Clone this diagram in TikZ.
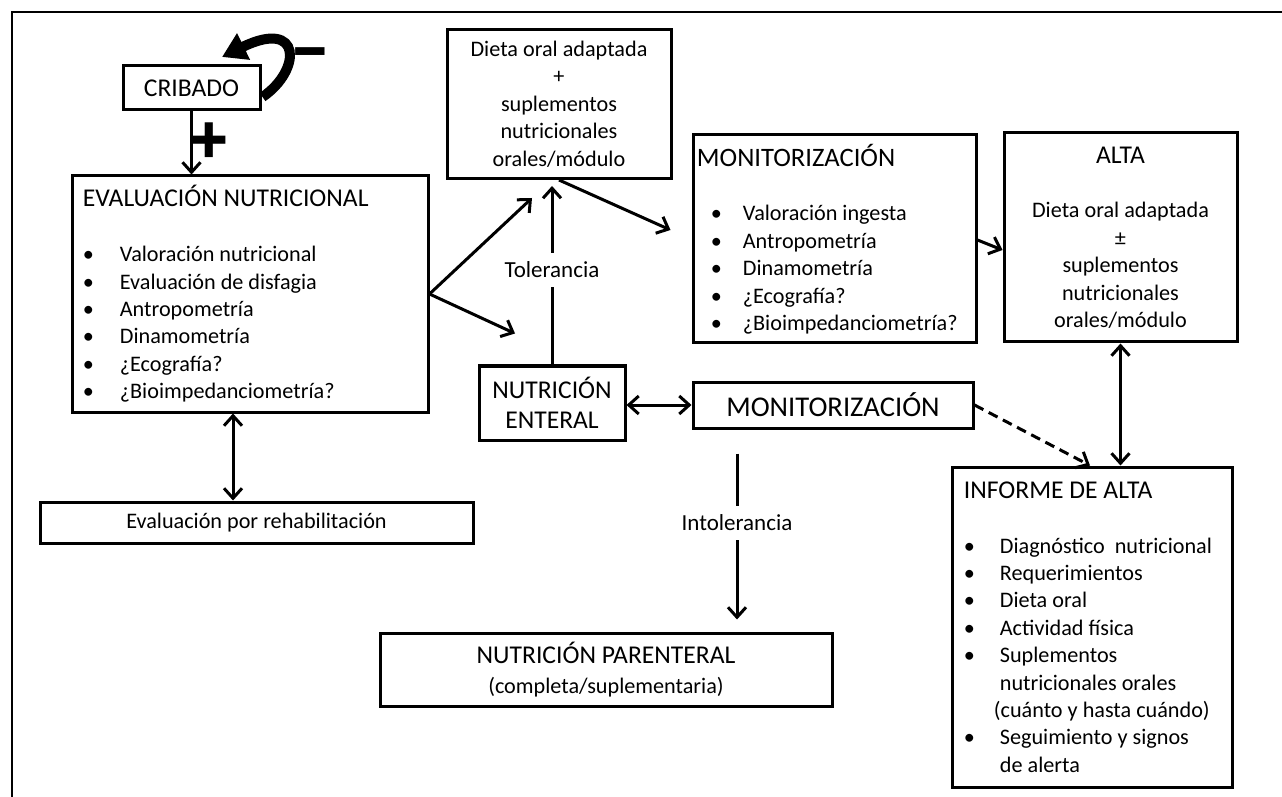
\documentclass[tikz,border=0pt]{standalone}
\usepackage{fontspec}
\setmainfont{Carlito}
\newfontfamily\emojifont{Noto Emoji}
\usetikzlibrary{positioning,arrows.meta}
\newcommand{\headfont}{\fontsize{12.8}{15}\selectfont}
\newcommand{\bul}[1][16pt]{\makebox[#1][l]{\textbullet}}

\begin{document}
\begin{tikzpicture}[x=0.5pt,y=-0.5pt,
  box/.style={draw,line width=1.5pt,inner sep=0pt},
  txt/.style={inner sep=0pt,align=left},
  link/.style={line width=1.5pt,-{Straight Barb[length=5pt,width=9pt]}},
  both/.style={link,{Straight Barb[length=5pt,width=9pt]}-{Straight Barb[length=5pt,width=9pt]}},
  font=\fontsize{11.1}{13.7}\selectfont]
\useasboundingbox (0,0) rectangle (1282,797);
\draw[line width=1pt] (12,797) -- (12,12) -- (1282,12);

% boxes
\node[box,minimum width=68.5pt,minimum height=22pt,font=\headfont] (cribado) at (191.5,88) {CRIBADO};
\node[box,minimum width=178pt,minimum height=118pt] (eval) at (250,294) {};
\node[box,minimum width=112pt,minimum height=74.5pt,align=center] (dieta) at (559,104)
  {Dieta oral adaptada\\+\\suplementos\\nutricionales\\orales/módulo};
\node[box,minimum width=141.5pt,minimum height=104pt] (monA) at (834.5,239) {};
\node[box,minimum width=116.5pt,minimum height=104.5pt,align=center] (alta) at (1120.5,237.5)
  {{\headfont ALTA}\\[13.7pt]Dieta oral adaptada\\±\\suplementos\\nutricionales\\orales/módulo};
\node[box,minimum width=73pt,minimum height=37pt,align=center,font=\headfont] (enteral) at (552,403) {NUTRICIÓN\\ENTERAL};
\node[box,minimum width=140pt,minimum height=23pt,font=\fontsize{14.3}{17}\selectfont] (monB) at (833,405) {MONITORIZACIÓN};
\node[box,minimum width=216.5pt,minimum height=20.5pt] (rehab) at (256.5,522.5) {Evaluación por rehabilitación};
\node[box,minimum width=226pt,minimum height=36.5pt,align=center] (parent) at (606,669.5)
  {{\headfont NUTRICIÓN PARENTERAL}\\[1.3pt](completa/suplementaria)};
\node[box,minimum width=140pt,minimum height=160pt] (informe) at (1092,627) {};

% box contents
\node[txt,right=6pt of eval.west] (evaltxt) {{\headfont EVALUACIÓN NUTRICIONAL}\\[13.7pt]
  \bul[18.5pt]Valoración nutricional\\
  \bul[18.5pt]Evaluación de disfagia\\
  \bul[18.5pt]Antropometría\\
  \bul[18.5pt]Dinamometría\\
  \bul[18.5pt]¿Ecografía?\\
  \bul[18.5pt]¿Bioimpedanciometría?};
\node[txt,right=2.5pt of monA.west] (monAtxt) {{\fontsize{13.3}{15}\selectfont MONITORIZACIÓN}\\[13.7pt]
  \hspace*{7pt}\bul Valoración ingesta\\
  \hspace*{7pt}\bul Antropometría\\
  \hspace*{7pt}\bul Dinamometría\\
  \hspace*{7pt}\bul ¿Ecografía?\\
  \hspace*{7pt}\bul ¿Bioimpedanciometría?};
\node[txt,right=6.5pt of informe.west] (informetxt) {{\headfont INFORME DE ALTA}\\[13.7pt]
  \bul[18pt]Diagnóstico\ \ nutricional\\
  \bul[18pt]Requerimientos\\
  \bul[18pt]Dieta oral\\
  \bul[18pt]Actividad física\\
  \bul[18pt]Suplementos\\
  \hspace*{18pt}nutricionales orales\\
  \hspace*{15pt}(cuánto y hasta cuándo)\\
  \bul[18pt]Seguimiento y signos\\
  \hspace*{18pt}de alerta};

% labels
\node[font=\fontsize{11.5}{13}\selectfont,inner sep=4.5pt] (tol) at (552,270) {Tolerancia};
\node[font=\fontsize{11.5}{13}\selectfont,inner sep=4.5pt] (intol) at (737,523) {Intolerancia};
\node[font=\emojifont\fontsize{16}{16}\selectfont,inner sep=0pt] (minus) at (310,55) {➖};
\node[font=\emojifont\fontsize{18}{18}\selectfont,inner sep=0pt] (plus) at (209,140) {➕};
\coordinate (loopend) at (222,57);

% connectors
\draw[line width=5pt,-{Triangle[length=12pt,width=14pt]}] ([shift={(1,9)}]cribado.east)
  .. controls (302,70) and (302,18) .. (loopend);
\draw[link] (cribado.south) -- (cribado.south |- eval.north);
\draw[both] ([shift={(-17,0)}]eval.south) -- ([shift={(-17,0)}]eval.south |- rehab.north);
\draw[link] (eval.east) -- ([shift={(-27,18)}]dieta.south);
\draw[link] (eval.east) -- ([shift={(-37,-31)}]enteral.north);
\draw[line width=1.5pt] (enteral.north) -- (tol);
\draw[link,shorten >=3pt] (tol) -- (tol |- dieta.south);
\draw[link] (dieta.south) -- ([shift={(-21,-9)}]monA.west);
\draw[link] ([shift={(0,1)}]monA.east) -- ([shift={(0,12.5)}]alta.west);
\draw[both] (monB.west -| enteral.east) -- (monB.west);
\draw[link,dash pattern=on 5pt off 3pt] (monB.east) -- ([xshift=-1pt]informe.north);
\draw[both] (alta.south) -- (alta.south |- informe.north);
\draw[line width=1.5pt] ([yshift=-12pt]intol |- monB.south) -- (intol);
\draw[link,shorten >=6pt] (intol) -- (intol |- parent.north);
\end{tikzpicture}
\end{document}
